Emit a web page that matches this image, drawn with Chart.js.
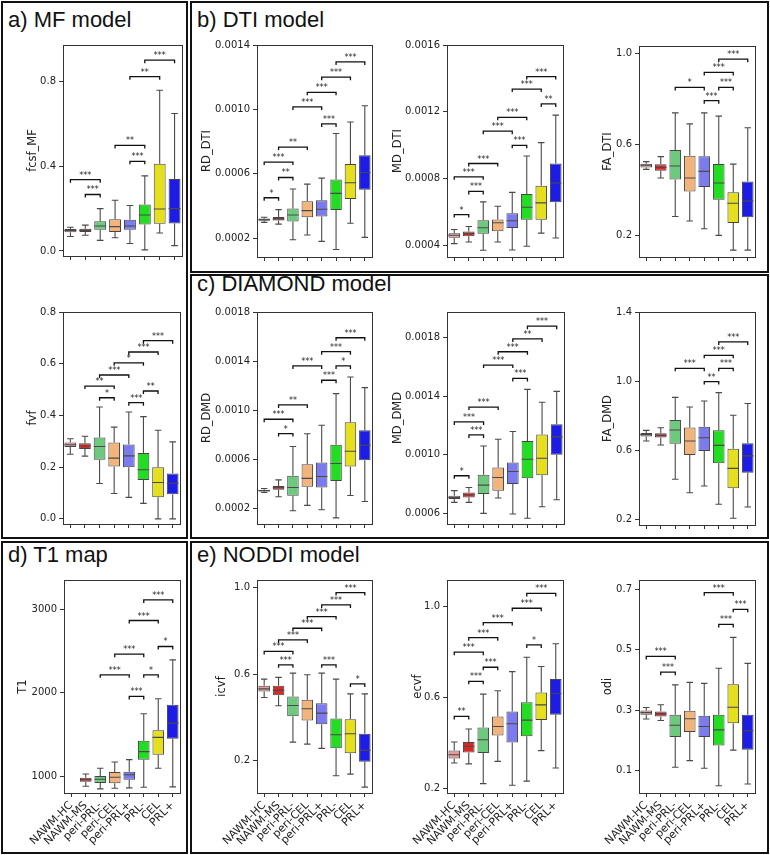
<!DOCTYPE html>
<html>
<head>
<meta charset="utf-8">
<script src="https://cdn.jsdelivr.net/npm/chart.js@4.4.1/dist/chart.umd.min.js"></script>
<style>
  body { margin: 0; background: #fff; }
  #fig { position: relative; width: 770px; height: 855px; overflow: hidden; font-family: "Liberation Sans", Arial, sans-serif; }
  .panel { position: absolute; border: 2px solid #111; box-sizing: border-box; }
  .ptitle { position: absolute; font-size: 22px; line-height: 22px; color: #111; white-space: nowrap; }
  canvas { position: absolute; }
</style>
</head>
<body>
<div id="fig">
  <div class="panel" style="left:1px;top:1px;width:187px;height:538px"></div>
  <div class="panel" style="left:190px;top:1px;width:579px;height:272px"></div>
  <div class="panel" style="left:190px;top:274px;width:579px;height:265px"></div>
  <div class="panel" style="left:1px;top:541px;width:187px;height:313px"></div>
  <div class="panel" style="left:190px;top:541px;width:579px;height:313px"></div>
  <div class="ptitle" style="left:8px;top:9px">a) MF model</div>
  <div class="ptitle" style="left:197px;top:9px">b) DTI model</div>
  <div class="ptitle" style="left:197px;top:273px">c) DIAMOND model</div>
  <div class="ptitle" style="left:8px;top:544px">d) T1 map</div>
  <div class="ptitle" style="left:197px;top:544px">e) NODDI model</div>
</div>
<script>
const categories = ['NAWM-HC', 'NAWM-MS', 'peri-PRL-', 'peri-CEL', 'peri-PRL+', 'PRL-', 'CEL', 'PRL+'];
const boxColors = ['#e79b9b', '#d92626', '#6cc97e', '#f3b47c', '#7b7bef', '#22dd22', '#e6df1e', '#1c1ce6'];

// each row: [lower whisker, q1, median, q3, upper whisker]
const fcsfMF = [
  [0.068, 0.088, 0.097, 0.104, 0.112], [0.074, 0.09, 0.097, 0.105, 0.122],
  [0.05, 0.1, 0.118, 0.14, 0.2], [0.062, 0.09, 0.115, 0.15, 0.24],
  [0.035, 0.1, 0.118, 0.148, 0.215], [0.005, 0.125, 0.17, 0.22, 0.355],
  [0.085, 0.128, 0.198, 0.412, 0.76], [0.025, 0.13, 0.2, 0.34, 0.65]
];
const fvf = [
  [0.25, 0.278, 0.287, 0.296, 0.31], [0.243, 0.27, 0.282, 0.293, 0.32],
  [0.137, 0.229, 0.28, 0.315, 0.433], [0.098, 0.203, 0.235, 0.296, 0.355],
  [0.083, 0.2, 0.244, 0.288, 0.414], [0.06, 0.15, 0.19, 0.255, 0.396],
  [0.0, 0.084, 0.141, 0.2, 0.343], [0.0, 0.095, 0.138, 0.176, 0.298]
];
const rdDTI = [
  [0.000298, 0.000308, 0.000314, 0.000322, 0.00033], [0.000287, 0.000309, 0.00032, 0.000332, 0.000377],
  [0.00019, 0.000303, 0.000344, 0.000385, 0.000505], [0.00022, 0.00033, 0.000371, 0.00043, 0.000536],
  [0.00018, 0.000334, 0.00038, 0.000435, 0.000573], [0.00013, 0.000375, 0.000478, 0.000565, 0.00085],
  [0.000293, 0.000443, 0.000544, 0.00066, 0.000922], [0.000205, 0.0005, 0.000608, 0.000715, 0.001023]
];
const mdDTI = [
  [0.00041, 0.000446, 0.00046, 0.000473, 0.000495], [0.00042, 0.000455, 0.00047, 0.000483, 0.000513],
  [0.00037, 0.00047, 0.000505, 0.00055, 0.00066], [0.00042, 0.000485, 0.000535, 0.000555, 0.000634],
  [0.000372, 0.000503, 0.000547, 0.000592, 0.000717], [0.000394, 0.000553, 0.000628, 0.000707, 0.000935],
  [0.000473, 0.000553, 0.000654, 0.000757, 0.001015], [0.000444, 0.000658, 0.000773, 0.00089, 0.00118]
];
const faDTI = [
  [0.49, 0.498, 0.508, 0.515, 0.524], [0.452, 0.484, 0.498, 0.512, 0.546],
  [0.283, 0.446, 0.505, 0.575, 0.738], [0.263, 0.393, 0.452, 0.55, 0.69],
  [0.229, 0.412, 0.481, 0.548, 0.738], [0.2, 0.356, 0.43, 0.514, 0.724],
  [0.135, 0.254, 0.341, 0.389, 0.513], [0.135, 0.28, 0.351, 0.437, 0.673]
];
const rdDMD = [
  [0.000327, 0.000335, 0.000342, 0.00035, 0.00036], [0.000292, 0.00035, 0.000366, 0.00038, 0.00043],
  [0.000178, 0.0003, 0.000368, 0.000463, 0.000702], [0.000222, 0.000374, 0.000442, 0.000558, 0.000806],
  [0.000186, 0.000368, 0.000458, 0.000572, 0.000876], [0.00012, 0.00042, 0.000564, 0.000716, 0.001134],
  [0.000303, 0.00054, 0.000664, 0.0009, 0.00127], [0.000254, 0.00059, 0.000713, 0.000835, 0.001183]
];
const mdDMD = [
  [0.000675, 0.000698, 0.000708, 0.00072, 0.000755], [0.000675, 0.000709, 0.000727, 0.000743, 0.000777],
  [0.0006, 0.000732, 0.000793, 0.000864, 0.00106], [0.000705, 0.000755, 0.000845, 0.000914, 0.001107],
  [0.000595, 0.0008, 0.000886, 0.000948, 0.00116], [0.000566, 0.00084, 0.00097, 0.001095, 0.001448],
  [0.000645, 0.00086, 0.000977, 0.00114, 0.00136], [0.000693, 0.001, 0.001123, 0.00121, 0.001434]
];
const faDMD = [
  [0.653, 0.679, 0.69, 0.7, 0.715], [0.63, 0.673, 0.686, 0.698, 0.73],
  [0.432, 0.638, 0.717, 0.775, 0.906], [0.354, 0.572, 0.653, 0.731, 0.85],
  [0.393, 0.596, 0.672, 0.736, 0.885], [0.287, 0.524, 0.628, 0.715, 0.933],
  [0.206, 0.38, 0.495, 0.609, 0.802], [0.271, 0.47, 0.567, 0.64, 0.87]
];
const t1 = [
  null, [880, 936, 958, 982, 1028],
  [849, 920, 965, 1005, 1096], [857, 916, 988, 1050, 1171],
  [861, 960, 1018, 1055, 1199], [869, 1199, 1295, 1426, 1749],
  [1096, 1259, 1466, 1550, 1928], [873, 1450, 1637, 1857, 2394]
];
const icvf = [
  [0.492, 0.52, 0.532, 0.546, 0.577], [0.454, 0.503, 0.525, 0.546, 0.585],
  [0.286, 0.405, 0.455, 0.497, 0.605], [0.277, 0.386, 0.44, 0.482, 0.597],
  [0.257, 0.369, 0.42, 0.466, 0.605], [0.131, 0.258, 0.32, 0.395, 0.577],
  [0.138, 0.235, 0.325, 0.392, 0.509], [0.078, 0.195, 0.248, 0.325, 0.509]
];
const ecvf = [
  [0.314, 0.333, 0.35, 0.369, 0.406], [0.31, 0.36, 0.387, 0.406, 0.463],
  [0.223, 0.358, 0.416, 0.47, 0.616], [0.321, 0.434, 0.474, 0.518, 0.631],
  [0.216, 0.404, 0.486, 0.54, 0.715], [0.234, 0.431, 0.502, 0.58, 0.778],
  [0.368, 0.502, 0.569, 0.623, 0.737], [0.292, 0.526, 0.618, 0.682, 0.837]
];
const odi = [
  [0.271, 0.285, 0.292, 0.299, 0.309], [0.266, 0.279, 0.288, 0.296, 0.318],
  [0.111, 0.211, 0.25, 0.285, 0.384], [0.133, 0.228, 0.272, 0.298, 0.392],
  [0.108, 0.211, 0.246, 0.282, 0.389], [0.05, 0.183, 0.235, 0.285, 0.439],
  [0.168, 0.257, 0.31, 0.386, 0.541], [0.056, 0.169, 0.232, 0.285, 0.455]
];

// significance brackets: [from category, to category, bracket level, label]
const fcsfPairs = [[0, 2, 0.337, '***'], [1, 2, 0.267, '***'], [3, 5, 0.499, '**'], [4, 5, 0.424, '***'], [4, 6, 0.824, '**'], [5, 7, 0.902, '***']];
const fvfPairs = [[1, 3, 0.514, '**'], [2, 3, 0.469, '*'], [2, 4, 0.557, '***'], [4, 5, 0.45, '***'], [3, 5, 0.604, '*'], [5, 6, 0.495, '**'], [4, 6, 0.646, '***'], [5, 7, 0.69, '***']];
const rdDTIPairs = [[0, 1, 0.000451, '*'], [1, 2, 0.000577, '**'], [0, 2, 0.000673, '***'], [1, 3, 0.000766, '**'], [4, 5, 0.00091, '***'], [2, 4, 0.001015, '***'], [3, 5, 0.001106, '***'], [4, 6, 0.0012, '***'], [5, 7, 0.001295, '***']];
const mdDTIPairs = [[0, 1, 0.000584, '*'], [1, 2, 0.000723, '***'], [0, 2, 0.00081, '***'], [1, 3, 0.00089, '***'], [4, 5, 0.000999, '***'], [2, 4, 0.001084, '***'], [3, 5, 0.001167, '***'], [6, 7, 0.001247, '**'], [4, 6, 0.001336, '***'], [5, 7, 0.001411, '***']];
const faDTIPairs = [[2, 4, 0.85, '*'], [4, 5, 0.792, '***'], [5, 6, 0.85, '***'], [4, 6, 0.916, '***'], [5, 7, 0.974, '***']];
const rdDMDPairs = [[1, 2, 0.000808, '*'], [0, 2, 0.000925, '***'], [1, 3, 0.001042, '**'], [4, 5, 0.001243, '***'], [2, 4, 0.00136, '***'], [5, 6, 0.00136, '*'], [4, 6, 0.001476, '***'], [5, 7, 0.00159, '***']];
const mdDMDPairs = [[0, 1, 0.000857, '*'], [1, 2, 0.001136, '***'], [0, 2, 0.001225, '***'], [1, 3, 0.001327, '***'], [4, 5, 0.001523, '***'], [2, 4, 0.001614, '***'], [3, 5, 0.001705, '***'], [4, 6, 0.001793, '**'], [5, 7, 0.00188, '***']];
const faDMDPairs = [[2, 4, 1.074, '***'], [4, 5, 0.997, '**'], [5, 6, 1.074, '***'], [4, 6, 1.149, '***'], [5, 7, 1.227, '***']];
const t1Pairs = [[4, 5, 1956, '***'], [2, 4, 2215, '***'], [5, 6, 2215, '*'], [3, 5, 2462, '***'], [6, 7, 2554, '*'], [4, 6, 2865, '***'], [5, 7, 3112, '***']];
const icvfPairs = [[6, 7, 0.555, '*'], [1, 2, 0.643, '***'], [4, 5, 0.643, '***'], [0, 2, 0.705, '***'], [1, 3, 0.758, '***'], [2, 4, 0.812, '***'], [3, 5, 0.866, '***'], [4, 6, 0.92, '***'], [5, 7, 0.977, '***']];
const ecvfPairs = [[0, 1, 0.518, '**'], [1, 2, 0.672, '***'], [2, 3, 0.734, '***'], [0, 2, 0.8, '***'], [5, 6, 0.832, '*'], [1, 3, 0.864, '***'], [2, 4, 0.93, '***'], [4, 6, 0.993, '***'], [5, 7, 1.058, '***']];
const odiPairs = [[1, 2, 0.426, '***'], [0, 2, 0.478, '***'], [5, 6, 0.584, '***'], [6, 7, 0.634, '***'], [4, 6, 0.689, '***']];

// tick labels
const fcsfTicks = [0, 0.4, 0.8];
const fvfTicks = [0, 0.2, 0.4, 0.6, 0.8];
const rdDTITicks = [0.0002, 0.0006, 0.0010, 0.0014];
const mdDTITicks = [0.0004, 0.0008, 0.0012, 0.0016];
const faDTITicks = [0.2, 0.6, 1.0];
const rdDMDTicks = [0.0002, 0.0006, 0.0010, 0.0014, 0.0018];
const mdDMDTicks = [0.0006, 0.0010, 0.0014, 0.0018];
const faDMDTicks = [0.2, 0.6, 1.0, 1.4];
const t1Ticks = [1000, 2000, 3000];
const icvfTicks = [0.2, 0.6, 1.0];
const ecvfTicks = [0.2, 0.6, 1.0];
const odiTicks = [0.1, 0.3, 0.5, 0.7];

const LEFT = 62, TOP = 12, RIGHT = 8;
const fig = document.getElementById('fig');

const charts = [
  { title: 'fcsf_MF', stats: fcsfMF, pairs: fcsfPairs, ticks: fcsfTicks, dec: 1, min: -0.024, max: 0.974, box: [63, 45, 119, 212], tdist: 30 },
  { title: 'fvf', stats: fvf, pairs: fvfPairs, ticks: fvfTicks, dec: 1, min: -0.02, max: 0.801, box: [63, 312, 117, 213], tdist: 30 },
  { title: 'RD_DTI', stats: rdDTI, pairs: rdDTIPairs, ticks: rdDTITicks, dec: 4, min: 0.000083, max: 0.0014, box: [257, 45, 115, 213], tdist: 50 },
  { title: 'MD_DTI', stats: mdDTI, pairs: mdDTIPairs, ticks: mdDTITicks, dec: 4, min: 0.00033, max: 0.0016, box: [447, 45, 116, 213], tdist: 49 },
  { title: 'FA_DTI', stats: faDTI, pairs: faDTIPairs, ticks: faDTITicks, dec: 1, min: 0.105, max: 1.032, box: [639, 46, 116, 212], tdist: 31 },
  { title: 'RD_DMD', stats: rdDMD, pairs: rdDMDPairs, ticks: rdDMDTicks, dec: 4, min: 0.00007, max: 0.0018, box: [257, 312, 115, 213], tdist: 50 },
  { title: 'MD_DMD', stats: mdDMD, pairs: mdDMDPairs, ticks: mdDMDTicks, dec: 4, min: 0.000527, max: 0.001977, box: [447, 312, 117, 213], tdist: 49 },
  { title: 'FA_DMD', stats: faDMD, pairs: faDMDPairs, ticks: faDMDTicks, dec: 1, min: 0.167, max: 1.4, box: [639, 312, 116, 214], tdist: 31 },
  { title: 'T1', stats: t1, pairs: t1Pairs, ticks: t1Ticks, dec: 0, min: 800, max: 3350, box: [64, 580, 116, 213], tdist: 41, labels: true },
  { title: 'icvf', stats: icvf, pairs: icvfPairs, ticks: icvfTicks, dec: 1, min: 0.051, max: 1.035, box: [257, 580, 115, 213], tdist: 35, labels: true },
  { title: 'ecvf', stats: ecvf, pairs: ecvfPairs, ticks: ecvfTicks, dec: 1, min: 0.182, max: 1.117, box: [447, 580, 116, 213], tdist: 29, labels: true },
  { title: 'odi', stats: odi, pairs: odiPairs, ticks: odiTicks, dec: 1, min: 0.026, max: 0.731, box: [639, 580, 116, 213], tdist: 31, labels: true }
];

// whiskers, medians, significance brackets and the frame
function boxPlugin(c) {
  return {
    id: 'boxes',
    afterDatasetsDraw(chart) {
      const { ctx, chartArea: a } = chart;
      const x = chart.scales.x, y = chart.scales.y;
      const bars = chart.getDatasetMeta(0).data;
      ctx.save();
      ctx.strokeStyle = '#4a4a4a';
      ctx.lineWidth = 1.1;
      c.stats.forEach((s, i) => {
        if (!s) return;
        const cx = x.getPixelForValue(i);
        const w = bars[i].width;
        const cap = w * 0.28;
        const [lo, q1, med, q3, hi] = s.map(v => y.getPixelForValue(v));
        ctx.beginPath();
        ctx.moveTo(cx, q3); ctx.lineTo(cx, hi);
        ctx.moveTo(cx, q1); ctx.lineTo(cx, lo);
        ctx.moveTo(cx - cap, hi); ctx.lineTo(cx + cap, hi);
        ctx.moveTo(cx - cap, lo); ctx.lineTo(cx + cap, lo);
        ctx.moveTo(cx - w / 2, med); ctx.lineTo(cx + w / 2, med);
        ctx.stroke();
      });

      ctx.strokeStyle = '#111';
      ctx.fillStyle = '#222';
      ctx.lineWidth = 1.3;
      ctx.font = '8px "DejaVu Sans"';
      ctx.textAlign = 'center';
      ctx.textBaseline = 'alphabetic';
      c.pairs.forEach(([i, j, v, lab]) => {
        const x1 = x.getPixelForValue(i), x2 = x.getPixelForValue(j);
        const py = y.getPixelForValue(v);
        ctx.beginPath();
        ctx.moveTo(x1, py + 3); ctx.lineTo(x1, py); ctx.lineTo(x2, py); ctx.lineTo(x2, py + 3);
        ctx.stroke();
        ctx.fillText(lab, (x1 + x2) / 2, py - 2);
      });

      ctx.strokeStyle = '#333';
      ctx.lineWidth = 1;
      ctx.strokeRect(Math.round(a.left) + 0.5, Math.round(a.top) + 0.5, Math.round(a.right - a.left), Math.round(a.bottom - a.top));
      ctx.restore();
    }
  };
}

function makeChart(c) {
  const [fx, fy, fw, fh] = c.box;
  const bottom = c.labels ? 64 : 8;
  const cv = document.createElement('canvas');
  cv.width = LEFT + fw + RIGHT;
  cv.height = TOP + fh + bottom;
  cv.style.left = (fx - LEFT) + 'px';
  cv.style.top = (fy - TOP) + 'px';
  fig.appendChild(cv);

  const tickFont = { family: 'DejaVu Sans', size: 10 };
  const gridOpts = { drawOnChartArea: false, drawTicks: true, tickLength: 4, color: '#333', lineWidth: 1 };

  new Chart(cv, {
    type: 'bar',
    data: {
      labels: categories,
      datasets: [{
        data: c.stats.map(s => s ? [s[1], s[3]] : null),
        backgroundColor: boxColors,
        borderColor: '#454545',
        borderWidth: 1,
        borderSkipped: false,
        barPercentage: 0.8,
        categoryPercentage: 1
      }]
    },
    options: {
      responsive: false,
      animation: false,
      events: [],
      layout: { padding: { top: TOP, right: RIGHT, left: 0, bottom: 0 } },
      plugins: { legend: { display: false }, tooltip: { enabled: false } },
      scales: {
        x: {
          offset: true,
          grid: Object.assign({ offset: false }, gridOpts),
          border: { display: false },
          ticks: {
            autoSkip: false, minRotation: 45, maxRotation: 45, padding: 2,
            color: '#222', font: { family: 'DejaVu Sans', size: 11 },
            callback: (v, i) => c.labels ? categories[i] : ''
          },
          afterFit: s => { s.height = bottom; }
        },
        y: {
          min: c.min,
          max: c.max,
          afterBuildTicks: s => { s.ticks = c.ticks.map(v => ({ value: v })); },
          grid: gridOpts,
          border: { display: false },
          ticks: { padding: 3, color: '#222', font: tickFont, callback: v => v.toFixed(c.dec) },
          title: {
            display: true, text: c.title, color: '#222',
            font: { family: 'DejaVu Sans', size: 11.5 },
            padding: { top: LEFT - c.tdist - 6.9, bottom: 0 }
          },
          afterFit: s => { s.width = LEFT; }
        }
      }
    },
    plugins: [boxPlugin(c)]
  });
}

charts.forEach(makeChart);
</script>
</body>
</html>
